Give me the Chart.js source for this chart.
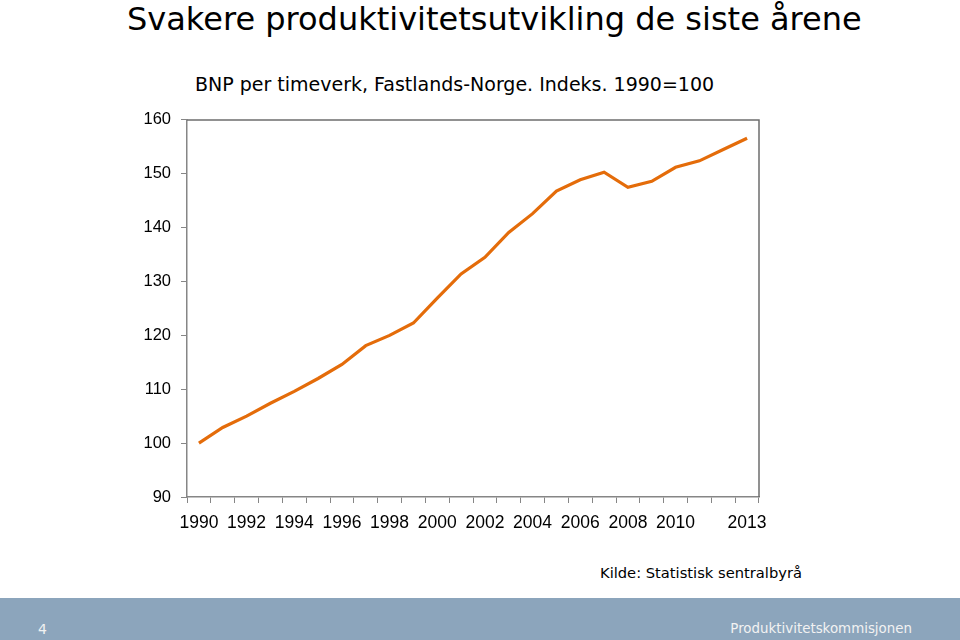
<!DOCTYPE html>
<html>
<head>
<meta charset="utf-8">
<script src="https://cdn.jsdelivr.net/npm/chart.js@4"></script>
<style>
  html, body { margin: 0; padding: 0; background: #fff; }
  body { width: 960px; height: 640px; position: relative; overflow: hidden; font-family: "DejaVu Sans", sans-serif; }
  .title { position: absolute; left: 127px; top: 0px; font-size: 32px; color: #000; white-space: nowrap; }
  .subtitle { position: absolute; left: 195px; top: 73px; font-size: 19px; color: #000; white-space: nowrap; }
  .source { position: absolute; left: 600px; top: 564px; font-size: 14.7px; color: #000; white-space: nowrap; }
  .footer { position: absolute; left: 0; top: 598px; width: 960px; height: 42px; background: #8ca5bc; }
  .footer .num { position: absolute; left: 38px; top: 23px; font-size: 14px; color: #f2f2f2; }
  .footer .org { position: absolute; right: 48px; top: 23px; font-size: 13.4px; color: #f2f2f2; }
  #wrap { position: absolute; left: 0; top: 100px; width: 960px; height: 450px; }
</style>
</head>
<body>
<div class="title">Svakere produktivitetsutvikling de siste årene</div>
<div class="subtitle">BNP per timeverk, Fastlands-Norge. Indeks. 1990=100</div>
<div id="wrap"><canvas id="chart"></canvas></div>
<div class="source">Kilde: Statistisk sentralbyrå</div>
<div class="footer"><span class="num">4</span><span class="org">Produktivitetskommisjonen</span></div>

<script>
// ─── Data ────────────────────────────────────────────────────────────────────
const years = ["1990","1991","1992","1993","1994","1995","1996","1997","1998","1999",
               "2000","2001","2002","2003","2004","2005","2006","2007","2008","2009",
               "2010","2011","2012","2013"];
const bnpIndex = [100, 102.9, 105, 107.4, 109.6, 112, 114.6, 118.1, 120, 122.3,
                  126.9, 131.4, 134.5, 139.1, 142.6, 146.8, 148.9, 150.3, 147.5, 148.6,
                  151.2, 152.4, 154.5, 156.6];
const shownYears = ["1990","1992","1994","1996","1998","2000","2002","2004","2006","2008","2010","2013"];

const AXIS_GREY = "#868686";
const LINE_ORANGE = "#e46c0a";

// draws the box around the plot area (top + right edges)
const frame = {
  id: "frame",
  afterDraw(chart) {
    const { ctx, chartArea: a } = chart;
    ctx.save();
    ctx.strokeStyle = "#6e6e6e";
    ctx.lineWidth = 1.5;
    ctx.beginPath();
    ctx.moveTo(a.left, a.top);
    ctx.lineTo(a.right, a.top);
    ctx.lineTo(a.right, a.bottom);
    ctx.stroke();
    ctx.restore();
  }
};

new Chart(document.getElementById("chart"), {
  type: "line",
  data: {
    labels: years,
    datasets: [{
      data: bnpIndex, borderColor: LINE_ORANGE, borderWidth: 3.2,
      pointRadius: 0, tension: 0, fill: false
    }]
  },
  options: {
    responsive: true,
    maintainAspectRatio: false,
    animation: false,
    layout: { padding: { top: 19, right: 201, left: 0, bottom: 0 } },
    plugins: { legend: { display: false }, tooltip: { enabled: false } },
    scales: {
      x: {
        offset: true,
        grid: { offset: true, drawOnChartArea: false, tickLength: 6, color: AXIS_GREY },
        border: { color: AXIS_GREY, width: 1.5 },
        ticks: {
          autoSkip: false, maxRotation: 0, padding: 10, color: "#000",
          font: { family: "'Liberation Sans', sans-serif", size: 17.5 },
          callback: function (v) {
            const lab = this.getLabelForValue(v);
            return shownYears.includes(lab) ? lab : "";
          }
        },
        afterFit: (s) => { s.height = 53; }
      },
      y: {
        min: 90, max: 160,
        grid: { drawOnChartArea: false, tickLength: 6, color: AXIS_GREY },
        border: { color: AXIS_GREY, width: 1.5 },
        ticks: {
          stepSize: 10, padding: 10, color: "#000",
          font: { family: "'Liberation Sans', sans-serif", size: 16.5 }
        },
        afterFit: (s) => { s.width = 187; }
      }
    }
  },
  plugins: [frame]
});
</script>
</body>
</html>
